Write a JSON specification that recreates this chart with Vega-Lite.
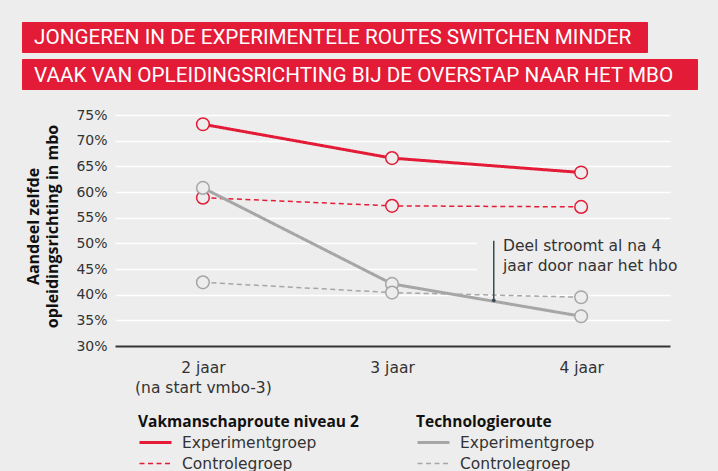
{
  "$schema": "https://vega.github.io/schema/vega-lite/v6.json",
  "width": 555,
  "height": 231,
  "autosize": "none",
  "padding": {"left": 115, "top": 115, "right": 48, "bottom": 125},
  "background": "#ededed",
  "config": {
    "view": {"stroke": null},
    "font": "DejaVu Sans",
    "text": {"font": "DejaVu Sans"}
  },
  "datasets": {
    "series": [
      {"jaar": 2, "route": "Vakmanschaproute niveau 2", "groep": "Experimentgroep", "v": 73.2},
      {"jaar": 3, "route": "Vakmanschaproute niveau 2", "groep": "Experimentgroep", "v": 66.6},
      {"jaar": 4, "route": "Vakmanschaproute niveau 2", "groep": "Experimentgroep", "v": 63.8},
      {"jaar": 2, "route": "Vakmanschaproute niveau 2", "groep": "Controlegroep", "v": 58.9},
      {"jaar": 3, "route": "Vakmanschaproute niveau 2", "groep": "Controlegroep", "v": 57.3},
      {"jaar": 4, "route": "Vakmanschaproute niveau 2", "groep": "Controlegroep", "v": 57.1},
      {"jaar": 2, "route": "Technologieroute", "groep": "Experimentgroep", "v": 60.8},
      {"jaar": 3, "route": "Technologieroute", "groep": "Experimentgroep", "v": 42.1},
      {"jaar": 4, "route": "Technologieroute", "groep": "Experimentgroep", "v": 35.8},
      {"jaar": 2, "route": "Technologieroute", "groep": "Controlegroep", "v": 42.4},
      {"jaar": 3, "route": "Technologieroute", "groep": "Controlegroep", "v": 40.4},
      {"jaar": 4, "route": "Technologieroute", "groep": "Controlegroep", "v": 39.5}
    ],
    "note": [
      {"x": 3.538, "y1": 38.9, "y2": 50.5, "mx1": 3.45, "mx2": 4.47, "my1": 44.3, "my2": 52.0, "tx": 3.587, "ty": 50.85, "label": "Deel stroomt al na 4\njaar door naar het hbo"}
    ]
  },
  "layer": [
    {
      "data": {"values": [{"t": "JONGEREN IN DE EXPERIMENTELE ROUTES SWITCHEN MINDER"}]},
      "layer": [
        {"mark": {"type": "rect", "fill": "#e31b37", "cornerRadius": 1},
         "encoding": {"x": {"value": -93}, "x2": {"value": 533}, "y": {"value": -93}, "y2": {"value": -62}}},
        {"mark": {"type": "text", "font": "Roboto", "fontSize": 20.7, "fill": "#ffffff", "align": "left", "baseline": "alphabetic"},
         "encoding": {"text": {"field": "t"}, "x": {"value": -81}, "y": {"value": -71}}}
      ]
    },
    {
      "data": {"values": [{"t": "VAAK VAN OPLEIDINGSRICHTING BIJ DE OVERSTAP NAAR HET MBO"}]},
      "layer": [
        {"mark": {"type": "rect", "fill": "#e31b37", "cornerRadius": 1},
         "encoding": {"x": {"value": -93}, "x2": {"value": 583}, "y": {"value": -56}, "y2": {"value": -25}}},
        {"mark": {"type": "text", "font": "Roboto", "fontSize": 20.7, "fill": "#ffffff", "align": "left", "baseline": "alphabetic"},
         "encoding": {"text": {"field": "t"}, "x": {"value": -81}, "y": {"value": -33.5}}}
      ]
    },
    {
      "data": {"name": "series"},
      "transform": [{"filter": "datum.route == 'Vakmanschaproute niveau 2'"}],
      "mark": {"type": "line", "color": "#e31b37"},
      "encoding": {
        "x": {
          "field": "jaar", "type": "quantitative",
          "scale": {"domain": [1.535, 4.47], "nice": false, "zero": false},
          "axis": {
            "title": null, "values": [2, 3, 4], "grid": false, "ticks": false,
            "domain": true, "domainColor": "#333333", "domainWidth": 2,
            "labelExpr": "datum.value == 2 ? ['2 jaar', '(na start vmbo-3)'] : datum.value + ' jaar'",
            "labelFont": "DejaVu Sans", "labelFontSize": 15.5, "labelColor": "#333333",
            "labelLineHeight": 20, "labelBaseline": "top", "labelPadding": 14,
            "labelFlush": false, "labelOverlap": false, "zindex": 1
          }
        },
        "y": {
          "field": "v", "type": "quantitative",
          "scale": {"domain": [30, 75], "nice": false, "zero": false},
          "axis": {
            "title": ["Aandeel zelfde", "opleidingsrichting in mbo"],
            "titleFont": "Open Sans", "titleFontSize": 16, "titleFontWeight": "bold",
            "titleColor": "#111111", "titleLineHeight": 19,
            "titleAngle": -90, "titleAlign": "center", "titleBaseline": "top",
            "titleX": -90, "titleY": 111,
            "values": [30, 35, 40, 45, 50, 55, 60, 65, 70, 75],
            "tickCount": 10,
            "labelExpr": "datum.value + '%'",
            "labelFont": "DejaVu Sans", "labelFontSize": 14, "labelColor": "#333333",
            "labelPadding": 8, "labelOverlap": false, "labelBound": false, "ticks": false, "domain": false,
            "grid": true, "gridColor": "#ffffff", "gridWidth": 1.5
          }
        },
        "detail": {"field": "groep"},
        "strokeDash": {
          "field": "groep", "type": "nominal",
          "scale": {"domain": ["Experimentgroep", "Controlegroep"], "range": [[1, 0], [5, 3.5]]},
          "legend": {
            "title": "Vakmanschaproute niveau 2", "orient": "none", "legendX": 23, "legendY": 300,
            "symbolType": "stroke", "symbolSize": 1024, "symbolStrokeColor": "#e31b37",
            "clipHeight": 16, "rowPadding": 4, "labelOffset": 9, "padding": 0, "titleLimit": 400,
            "titleFont": "Open Sans", "titleFontSize": 15.5, "titleFontWeight": "bold", "titleColor": "#111111",
            "titlePadding": 4, "labelFont": "DejaVu Sans", "labelFontSize": 15.5, "labelColor": "#333333"
          }
        },
        "strokeWidth": {
          "field": "groep", "type": "nominal",
          "scale": {"domain": ["Experimentgroep", "Controlegroep"], "range": [3, 1.5]},
          "legend": {
            "title": "Vakmanschaproute niveau 2", "orient": "none", "legendX": 23, "legendY": 300,
            "symbolType": "stroke", "symbolSize": 1024, "symbolStrokeColor": "#e31b37",
            "clipHeight": 16, "rowPadding": 4, "labelOffset": 9, "padding": 0, "titleLimit": 400,
            "titleFont": "Open Sans", "titleFontSize": 15.5, "titleFontWeight": "bold", "titleColor": "#111111",
            "titlePadding": 4, "labelFont": "DejaVu Sans", "labelFontSize": 15.5, "labelColor": "#333333"
          }
        }
      }
    },
    {
      "data": {"name": "note"},
      "mark": {"type": "rect", "fill": "#ededed"},
      "encoding": {
        "x": {"field": "mx1", "type": "quantitative"},
        "x2": {"field": "mx2"},
        "y": {"field": "my1", "type": "quantitative"},
        "y2": {"field": "my2"}
      }
    },
    {
      "data": {"name": "series"},
      "transform": [{"filter": "datum.route == 'Technologieroute'"}],
      "mark": {"type": "line", "color": "#a6a6a6"},
      "encoding": {
        "x": {"field": "jaar", "type": "quantitative"},
        "y": {"field": "v", "type": "quantitative"},
        "detail": {"field": "groep"},
        "strokeDash": {
          "field": "groep", "type": "nominal",
          "scale": {"domain": ["Experimentgroep", "Controlegroep"], "range": [[1, 0], [5, 3.5]]},
          "legend": {
            "title": "Technologieroute", "orient": "none", "legendX": 301, "legendY": 300,
            "symbolType": "stroke", "symbolSize": 1024, "symbolStrokeColor": "#a6a6a6",
            "clipHeight": 16, "rowPadding": 4, "labelOffset": 9, "padding": 0, "titleLimit": 400,
            "titleFont": "Open Sans", "titleFontSize": 15.5, "titleFontWeight": "bold", "titleColor": "#111111",
            "titlePadding": 4, "labelFont": "DejaVu Sans", "labelFontSize": 15.5, "labelColor": "#333333"
          }
        },
        "strokeWidth": {
          "field": "groep", "type": "nominal",
          "scale": {"domain": ["Experimentgroep", "Controlegroep"], "range": [3, 1.5]},
          "legend": {
            "title": "Technologieroute", "orient": "none", "legendX": 301, "legendY": 300,
            "symbolType": "stroke", "symbolSize": 1024, "symbolStrokeColor": "#a6a6a6",
            "clipHeight": 16, "rowPadding": 4, "labelOffset": 9, "padding": 0, "titleLimit": 400,
            "titleFont": "Open Sans", "titleFontSize": 15.5, "titleFontWeight": "bold", "titleColor": "#111111",
            "titlePadding": 4, "labelFont": "DejaVu Sans", "labelFontSize": 15.5, "labelColor": "#333333"
          }
        }
      }
    },
    {
      "data": {"name": "series"},
      "mark": {"type": "point", "shape": "circle", "size": 160, "strokeWidth": 1.5, "filled": true, "fill": "#ededed", "opacity": 1},
      "encoding": {
        "x": {"field": "jaar", "type": "quantitative"},
        "y": {"field": "v", "type": "quantitative"},
        "stroke": {
          "field": "route", "type": "nominal",
          "scale": {"domain": ["Vakmanschaproute niveau 2", "Technologieroute"], "range": ["#e31b37", "#a6a6a6"]},
          "legend": null
        }
      }
    },
    {
      "data": {"name": "note"},
      "mark": {"type": "rule", "color": "#3b4a52", "strokeWidth": 1.5},
      "encoding": {
        "x": {"field": "x", "type": "quantitative"},
        "y": {"field": "y1", "type": "quantitative"},
        "y2": {"field": "y2"}
      }
    },
    {
      "data": {"name": "note"},
      "mark": {"type": "point", "shape": "circle", "size": 14, "filled": true, "color": "#3b4a52", "opacity": 1},
      "encoding": {
        "x": {"field": "x", "type": "quantitative"},
        "y": {"field": "y1", "type": "quantitative"}
      }
    },
    {
      "data": {"name": "note"},
      "mark": {"type": "text", "font": "DejaVu Sans", "fontSize": 15.5, "fill": "#333333", "align": "left", "baseline": "top", "lineBreak": "\n", "lineHeight": 20},
      "encoding": {
        "x": {"field": "tx", "type": "quantitative"},
        "y": {"field": "ty", "type": "quantitative"},
        "text": {"field": "label"}
      }
    }
  ],
  "resolve": {"scale": {"strokeDash": "independent", "strokeWidth": "independent"}}
}
